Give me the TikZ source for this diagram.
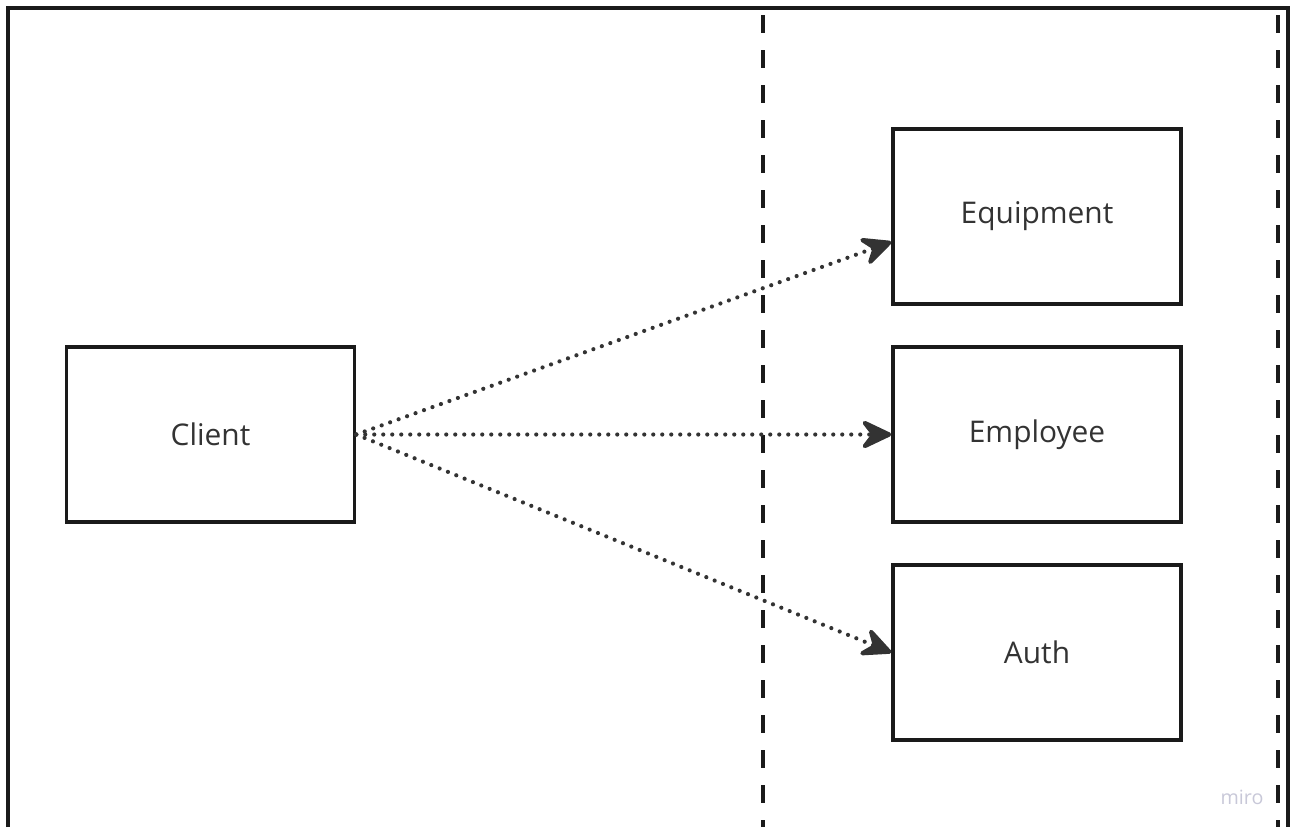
\documentclass[tikz,border=0pt]{standalone}
\usepackage{fontspec}
\setmainfont{Open Sans}
\usepackage{xcolor}
\usepackage{tikz}
\usetikzlibrary{arrows.meta}
\definecolor{ink}{HTML}{1A1A1A}
\definecolor{lead}{HTML}{333333}
\definecolor{mark}{HTML}{C8C8D8}
\tikzstyle{component}=[draw=ink, line width=0.35mm, rectangle, minimum width=28.8mm, minimum height=17.5mm, text=lead, font=\fontsize{8.5}{10}\selectfont]
\tikzstyle{boundary}=[draw=ink, line width=0.4mm, dash pattern=on 1.8mm off 1.7mm]
\tikzstyle{call}=[draw=lead, line width=0.42mm, line cap=round, dash pattern=on 0pt off 0.9mm, -{Stealth[length=3.6mm, width=3.4mm, inset=1.3mm, round]}]

\begin{document}
\begin{tikzpicture}[x=0.1mm, y=-0.1mm]
        \useasboundingbox (0,0) rectangle (1293,827);
        % frame and zone boundaries
        \draw[ink, line width=0.48mm] (8,827) -- (8,8) -- (1288,8) -- (1288,827);
        \foreach \x in {763,1278} { \draw[boundary] (\x,15) -- (\x,827); }
        % services
        \node[component] (client) at (210.5,434.5) {Client};
        \node[component] (equip) at (1037,216.5) {Equipment};
        \node[component] (empl) at (1037,434.5) {Employee};
        \node[component] (auth) at (1037,652.5) {Auth};
        \draw[call] (client.east) -- ([yshift=-2.55mm]equip.west);
        \draw[call] (client.east) -- (empl.west);
        \draw[call] (client.east) -- (auth.west);
        \node[text=mark, font=\fontsize{5.6}{6}\selectfont] (miro) at (1242,797) {miro};
    \end{tikzpicture}
\end{document}
